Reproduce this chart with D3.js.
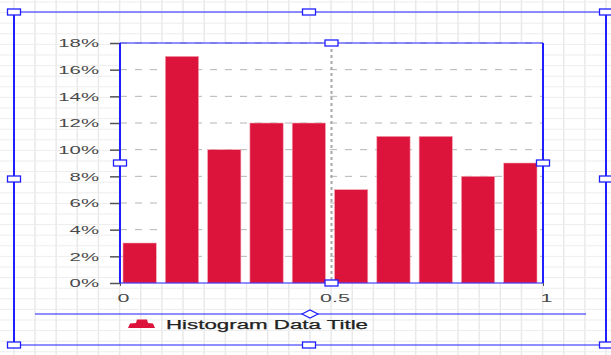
<!DOCTYPE html>
<html>
<head>
<meta charset="utf-8">
<script src="https://cdn.jsdelivr.net/npm/d3@7"></script>
<style>
  html, body { margin: 0; padding: 0; background: #fff; }
  svg { display: block; }
  text { font-family: "Liberation Sans", Arial, sans-serif; }
</style>
</head>
<body>
<svg id="chart" width="611" height="355"></svg>
<script>
// Histogram bins (lower / upper edges) and the share of values in each bin (%)
const binLower = [0, 0.1, 0.2, 0.3, 0.4, 0.5, 0.6, 0.7, 0.8, 0.9];
const binUpper = [0.1, 0.2, 0.3, 0.4, 0.5, 0.6, 0.7, 0.8, 0.9, 1.0];
const binPercent = [3, 17, 10, 12, 12, 7, 11, 11, 8, 9];

const yTicks = [0, 2, 4, 6, 8, 10, 12, 14, 16, 18];
const xTicks = [0, 0.5, 1];
const seriesName = "Histogram Data Title";

const W = 611, H = 355;
const plot = { left: 120, right: 543, top: 43, bottom: 283 };
const blue = "#1f1fff";
const barColor = "#dc143c";

const svg = d3.select("#chart");

// ---- designer canvas grid ----
const grid = svg.append("g");
d3.range(-1, 30).forEach(i => {
  const x = 35 + i * 21.15;
  grid.append("line").attr("x1", x).attr("x2", x).attr("y1", 0).attr("y2", H)
    .attr("stroke", "#e9e9e9").attr("stroke-width", 1.5);
});
d3.range(0, 34).forEach(i => {
  const y = 2 + i * 10.6;
  grid.append("line").attr("x1", 0).attr("x2", W).attr("y1", y).attr("y2", y)
    .attr("stroke", "#ededed").attr("stroke-width", 1);
});

const x = d3.scaleLinear().domain([0, 1]).range([plot.left, plot.right]);
const y = d3.scaleLinear().domain([0, 18]).range([plot.bottom, plot.top]);

// plot background
svg.append("rect")
  .attr("x", plot.left).attr("y", plot.top)
  .attr("width", plot.right - plot.left).attr("height", plot.bottom - plot.top)
  .attr("fill", "#fff");

// stretch helper for the wide label lettering
function stretch(sel, k) {
  sel.each(function () {
    const w = this.getComputedTextLength();
    d3.select(this).attr("textLength", w * k).attr("lengthAdjust", "spacingAndGlyphs");
  });
}

// horizontal dashed gridlines
svg.append("g").selectAll("line").data(yTicks.filter(t => t > 0)).join("line")
  .attr("x1", plot.left).attr("x2", plot.right)
  .attr("y1", d => y(d)).attr("y2", d => y(d))
  .attr("stroke", "#b5b5b5").attr("stroke-width", 1)
  .attr("stroke-dasharray", "7,8");

// bars
svg.append("g").selectAll("rect").data(binPercent).join("rect")
  .attr("x", (d, i) => x(binLower[i]) + 3)
  .attr("width", (d, i) => x(binUpper[i]) - x(binLower[i]) - 9)
  .attr("y", d => y(d))
  .attr("height", d => y(0) - y(d))
  .attr("fill", barColor)
  .attr("stroke", "#f3a7b6").attr("stroke-width", 0.6);

// vertical dotted line at the midpoint
svg.append("line")
  .attr("x1", x(0.5)).attr("x2", x(0.5))
  .attr("y1", plot.top).attr("y2", plot.bottom)
  .attr("stroke", "#a8a8a8").attr("stroke-width", 2)
  .attr("stroke-dasharray", "3,3");

// y axis
const yAxis = svg.append("g")
  .attr("transform", `translate(${plot.left},0)`)
  .call(d3.axisLeft(y).tickValues(yTicks).tickFormat(d => d + "%").tickSize(10).tickPadding(11));
yAxis.select(".domain").remove();
yAxis.selectAll(".tick line").attr("stroke", "#555").attr("stroke-width", 1.5);
yAxis.selectAll(".tick text")
  .attr("fill", "#4a4a4a").style("font-size", "11px").attr("dy", "0.36em");
stretch(yAxis.selectAll(".tick text"), 1.85);

// x axis
const xAxis = svg.append("g")
  .attr("transform", `translate(0,${plot.bottom})`)
  .call(d3.axisBottom(x).tickValues(xTicks).tickFormat(d3.format("")).tickSize(3).tickPadding(8));
xAxis.select(".domain").remove();
xAxis.selectAll(".tick line").attr("stroke", "#555");
xAxis.selectAll(".tick text")
  .attr("fill", "#4a4a4a").style("font-size", "11px").attr("dx", "3");
stretch(xAxis.selectAll(".tick text"), 1.95);

// plot frame (selection outline)
const frame = svg.append("g").attr("stroke", blue).attr("fill", "none");
frame.append("line").attr("x1", plot.left).attr("x2", plot.right).attr("y1", plot.top).attr("y2", plot.top).attr("stroke-width", 1.2);
frame.append("line").attr("x1", plot.left).attr("x2", plot.right).attr("y1", plot.bottom).attr("y2", plot.bottom).attr("stroke-width", 1.2);
frame.append("line").attr("x1", plot.left).attr("x2", plot.left).attr("y1", plot.top).attr("y2", plot.bottom).attr("stroke-width", 2);
frame.append("line").attr("x1", plot.right).attr("x2", plot.right).attr("y1", plot.top).attr("y2", plot.bottom).attr("stroke-width", 2);

// outer chart selection outline
const outer = { left: 14, right: 606, top: 12, bottom: 345 };
const ob = svg.append("g").attr("stroke", blue).attr("fill", "none");
ob.append("line").attr("x1", outer.left).attr("x2", outer.right).attr("y1", outer.top).attr("y2", outer.top).attr("stroke-width", 1.2);
ob.append("line").attr("x1", outer.left).attr("x2", outer.right).attr("y1", outer.bottom).attr("y2", outer.bottom).attr("stroke-width", 1.2);
ob.append("line").attr("x1", outer.left).attr("x2", outer.left).attr("y1", outer.top).attr("y2", outer.bottom).attr("stroke-width", 2);
ob.append("line").attr("x1", outer.right).attr("x2", outer.right).attr("y1", outer.top).attr("y2", outer.bottom).attr("stroke-width", 2);

// legend separator line
const legendY = 314;
svg.append("line").attr("x1", 35).attr("x2", 586).attr("y1", legendY).attr("y2", legendY)
  .attr("stroke", blue).attr("stroke-width", 1.2);

// resize handles
const handles = [
  [outer.left, outer.top], [309, outer.top], [outer.right, outer.top],
  [outer.left, 179], [outer.right, 179],
  [outer.left, outer.bottom], [309, outer.bottom], [outer.right, outer.bottom],
  [x(0.5), plot.top], [plot.left, 163], [plot.right, 163], [x(0.5), plot.bottom]
];
svg.append("g").selectAll("rect").data(handles).join("rect")
  .attr("x", d => d[0] - 6.5).attr("y", d => d[1] - 3)
  .attr("width", 13).attr("height", 6)
  .attr("fill", "#fff").attr("stroke", blue).attr("stroke-width", 1.3);

// legend drag diamond
svg.append("path")
  .attr("d", `M${310 - 8},${legendY} L310,${legendY - 4} L${310 + 8},${legendY} L310,${legendY + 4} Z`)
  .attr("fill", "#fff").attr("stroke", blue).attr("stroke-width", 1.2);

// legend entry
svg.append("path")
  .attr("d", "M128,328 L130,323.5 L136,323 L137,319.5 L147,319.5 L148,323 L153,323.5 L155,328 Z")
  .attr("fill", barColor);
svg.append("text")
  .attr("x", 166).attr("y", 329)
  .attr("fill", "#222").style("font-size", "12.5px")
  .attr("stroke", "#222").attr("stroke-width", 0.25)
  .attr("textLength", 202).attr("lengthAdjust", "spacingAndGlyphs")
  .text(seriesName);
</script>
</body>
</html>
